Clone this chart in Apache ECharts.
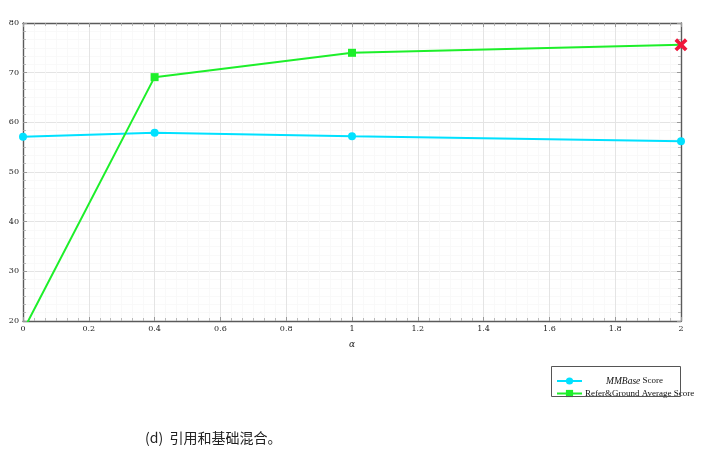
<!DOCTYPE html>
<html>
<head>
<meta charset="utf-8">
<script src="https://cdn.jsdelivr.net/npm/echarts@6/dist/echarts.min.js"></script>
<style>html,body{margin:0;padding:0;background:#fff}#c{width:717px;height:460px}</style>
</head>
<body>
<div id="c"></div>
<script>
const alpha = [0, 0.4, 1, 2];
const mmbaseScore = [57.1, 57.9, 57.2, 56.2];
const referGroundScore = [18, 69.1, 74.0, 75.6];
const xTicks = [0, 0.2, 0.4, 0.6, 0.8, 1, 1.2, 1.4, 1.6, 1.8, 2];
const yTicks = [20, 30, 40, 50, 60, 70, 80];
const seriesNames = ['MMBase Score', 'Refer&Ground Average Score'];
const caption = '(d)  引用和基础混合。';

const serif = '"DejaVu Serif", "Liberation Serif", serif';
const legendSerif = '"Liberation Serif", "DejaVu Serif", serif';
const cyan = '#00e1ff';
const green = '#1def2a';
const red = '#f0163a';
const crossPath = 'path://M0,2 L2,0 L5,3 L8,0 L10,2 L7,5 L10,8 L8,10 L5,7 L2,10 L0,8 L3,5 Z';

const chart = echarts.init(document.getElementById('c'), null, {renderer: 'canvas'});

function axisBase(pos, isX, showLabel) {
  const a = {
    type: 'value',
    position: pos,
    min: isX ? xTicks[0] : yTicks[0],
    max: isX ? xTicks[xTicks.length - 1] : yTicks[yTicks.length - 1],
    interval: isX ? 0.2 : 10,
    axisLine: {show: true, onZero: false, lineStyle: {color: '#5a5a5a', width: 1.4}},
    axisTick: {show: true, inside: true, length: 4, lineStyle: {color: '#999', width: 1}},
    minorTick: {show: true, splitNumber: 6, length: 3, lineStyle: {color: '#aaa', width: 0.8}},
    axisLabel: {show: showLabel, fontFamily: serif, fontSize: 8, color: '#222', margin: 4},
    splitLine: {show: showLabel, lineStyle: {color: '#e4e4e4', width: 1}},
    minorSplitLine: {show: showLabel, lineStyle: {color: '#f7f7f7', width: 0.8}}
  };
  if (isX && showLabel) {
    a.axisLabel.formatter = v => String(Math.round(v * 10) / 10);
    a.name = 'α';
    a.nameLocation = 'middle';
    a.nameGap = 19;
    a.nameTextStyle = {fontFamily: serif, fontStyle: 'italic', fontSize: 9, color: '#222'};
  }
  return a;
}

const option = {
  animation: false,
  backgroundColor: '#fff',
  grid: {left: 23, top: 23, width: 658, height: 298, containLabel: false},
  xAxis: [axisBase('bottom', true, true), axisBase('top', true, false)],
  yAxis: [axisBase('left', false, true), axisBase('right', false, false)],
  legend: {
    orient: 'vertical',
    left: 556,
    top: 376,
    itemWidth: 25,
    itemHeight: 9,
    itemGap: 3,
    padding: 0,
    data: seriesNames,
    textStyle: {
      fontFamily: legendSerif, fontSize: 9, color: '#111', padding: [0, 0, 0, -2],
      rich: {
        i: {fontFamily: legendSerif, fontStyle: 'italic', fontSize: 9.5, color: '#111'},
        p: {width: 21},
        n: {fontFamily: legendSerif, fontSize: 9, color: '#111'}
      }
    },
    formatter: function (name) {
      if (name === seriesNames[0]) return '{p|}{i|MMBase}{n| Score}';
      return '{n|' + name + '}';
    }
  },
  graphic: [
    {type: 'rect', shape: {x: 551.5, y: 366.5, width: 129, height: 30},
     style: {fill: 'none', stroke: '#555', lineWidth: 1}, z: 10},
    {type: 'text', left: 145, top: 431,
     style: {text: caption, font: '14px "Noto Sans CJK SC", "Noto Sans", sans-serif', fill: '#222'}}
  ],
  series: [
    {
      name: seriesNames[0], type: 'line',
      data: alpha.map((a, i) => [a, mmbaseScore[i]]),
      symbol: 'circle', symbolSize: 8,
      lineStyle: {color: cyan, width: 2},
      itemStyle: {color: cyan},
      z: 3
    },
    {
      name: seriesNames[1], type: 'line',
      clip: true,
      data: alpha.map((a, i) => {
        const item = {value: [a, referGroundScore[i]]};
        if (i === 0) item.symbol = 'none';
        if (i === alpha.length - 1) {
          item.symbol = crossPath;
          item.symbolSize = 13;
          item.itemStyle = {color: red};
        }
        return item;
      }),
      symbol: 'rect', symbolSize: 8,
      lineStyle: {color: green, width: 2},
      itemStyle: {color: green},
      z: 4
    }
  ]
};
chart.setOption(option);
</script>
</body>
</html>
